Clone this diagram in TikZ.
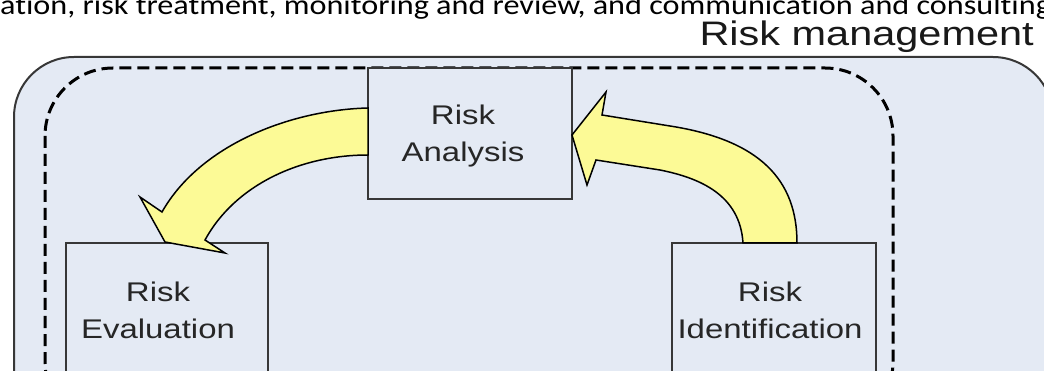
\documentclass[tikz,border=0pt]{standalone}
\usepackage{fontspec}
\setmainfont{Liberation Sans}[FakeStretch=1.22]
\newfontfamily\captionfont{Carlito}[FakeStretch=1.15, Ligatures=CommonOff]
\definecolor{panel}{RGB}{228,234,244}
\definecolor{arrowfill}{RGB}{252,250,150}
\definecolor{edge}{RGB}{55,55,55}
\tikzset{
  riskbox/.style={draw=edge, fill=panel, line width=1.5pt, inner sep=0pt},
  risklabel/.style={align=center, anchor=base, inner sep=0pt, text=black!85,
    font=\fontsize{27}{36.5}\selectfont},
  bigarrow/.style={draw=black, fill=arrowfill, line width=1.5pt, line join=miter},
}
\begin{document}
\begin{tikzpicture}[x=1pt,y=-1pt]
\useasboundingbox (0,0) rectangle (1044,371);
\clip (0,0) rectangle (1044,371);
% caption line, cut at the top
\node[anchor=base west, inner sep=0pt, font=\captionfont\fontsize{28}{30}\selectfont]
  (caption) at (0,14.5) {ation, risk treatment, monitoring and review, and communication and consulting};
\node[anchor=base east, inner sep=0pt, font=\fontsize{34}{40}\selectfont, text=black!90]
  (title) at (1034,46) {Risk management};
% panel and dashed frame
\draw[draw=edge, fill=panel, line width=2pt, rounded corners=60] (14,57) rectangle (1053,430);
\draw[black, line width=3pt, dash pattern=on 12pt off 6pt, rounded corners=68] (45,68) rectangle (893,430);
% boxes
\node[riskbox, minimum width=204, minimum height=131] (analysis) at (470,133.5) {};
\node[riskbox, minimum width=202, minimum height=187] (evaluation) at (167,336.5) {};
\node[riskbox, minimum width=204, minimum height=187] (identification) at (774,336.5) {};
% arrows
\draw[bigarrow] (797,243) .. controls (797,180) and (760,140) .. (670,126) -- (602,115)
  -- (606,92) -- (572,135) -- (587,185) -- (596,160) -- (660,170)
  .. controls (700,178) and (740,195) .. (743,243) -- cycle;
\draw[bigarrow] (368,108) .. controls (290,110) and (200,145) .. (162,212) -- (140,197)
  -- (165,242) -- (225,253) -- (205,240)
  .. controls (235,185) and (300,155) .. (368,155) -- cycle;
% labels
\node[risklabel] (analysis text) at (463,161.5) {Risk\\Analysis};
\node[risklabel] (evaluation text) at (158,338) {Risk\\Evaluation};
\node[risklabel] (identification text) at (770,338) {Risk\\Identification};
\end{tikzpicture}
\end{document}
